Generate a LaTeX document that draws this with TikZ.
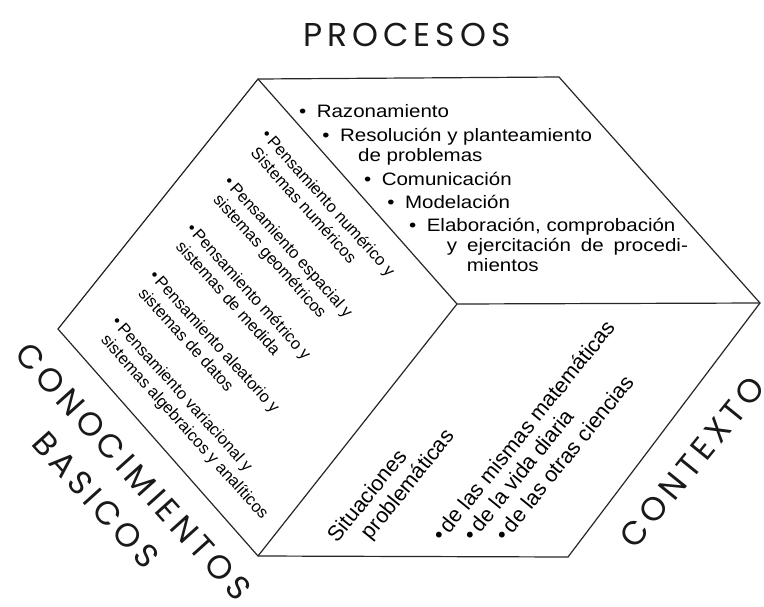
\documentclass[tikz,border=0pt]{standalone}
\usepackage{fontspec}
\setmainfont{Liberation Sans}
\newfontfamily\facefont{Liberation Sans}[FakeStretch=1.14]
\newfontfamily\axisfont{Poppins}[LetterSpace=15]

\newcommand{\procitem}{\textbullet\hspace{10.5pt}}

\begin{document}
\begin{tikzpicture} [
	   x=1pt, y=-1pt,
	   edge/.style  = { draw=black!85, line width=1.2pt, line join=miter },
	   axis/.style  = { font=\axisfont\fontsize{33}{40}\selectfont, text=black!90, inner sep=0pt, anchor=base },
	   proc/.style  = { font=\facefont\fontsize{18}{21}\selectfont, text=black, inner sep=0pt, anchor=base west },
	   know/.style  = { font=\fontsize{16.5}{20}\selectfont, text=black, inner sep=0pt, anchor=base west },
	   ctx/.style   = { font=\fontsize{21.5}{25}\selectfont, text=black, inner sep=0pt, anchor=base west },
	 ]
	  \useasboundingbox (0,0) rectangle (764,606);

	  % corners of the cube
	  \coordinate (topL)  at (258,79);
	  \coordinate (topR)  at (559,77);
	  \coordinate (right) at (760,303);
	  \coordinate (mid)   at (457,304);
	  \coordinate (left)  at (58,329);
	  \coordinate (botL)  at (258,556);
	  \coordinate (botR)  at (568,557);

	  % outline and the three inner edges
	  \draw[edge] (topL) -- (topR) -- (right) -- (botR) -- (botL) -- (left) -- cycle;
	  \draw[edge] (mid) -- (topL) (mid) -- (right) (mid) -- (botL);

	  % axis names
	  \node[axis] (procesos) at (407,46) {PROCESOS};
	  \node[axis, rotate=-48] (conoc) at (124.8,479.4) {CONOCIMIENTOS};
	  \node[axis, rotate=-48] (basic) at (87.5,507.7) {BASICOS};
	  \node[axis, rotate=51] (contexto) at (701.4,469.2) {CONTEXTO};

	  % top face
	  \node[proc] (p1) at (298.9,117.7) {\procitem Razonamiento};
	  \node[proc] (p2) at (322.2,141.7) {\procitem Resolución y planteamiento};
	  \node[proc] (p3) at (358,161.7) {de problemas};
	  \node[proc] (p4) at (363.9,185.7) {\procitem Comunicación};
	  \node[proc] (p5) at (387.2,208.3) {\procitem Modelación};
	  \node[proc] (p6) at (408.9,231.7) {\procitem Elaboración, comprobación};
	  \node[proc] (p7) at (446.7,251.7) {\makebox[241pt][s]{y ejercitación de procedi-}};
	  \node[proc] (p8) at (466.7,271.7) {mientos};

	  % left face, written along the edge from the top corner
	  \begin{scope} [shift={(topL)}, rotate=-48, transform shape]
		\node[know] (k1a) at (44,36)      {\textbullet\,Pensamiento numérico y};
		\node[know] (k1b) at (50,56)      {Sistemas numéricos};
		\node[know] (k2a) at (53.7,95.1)  {\textbullet\,Pensamiento espacial y};
		\node[know] (k2b) at (59.7,115.1) {sistemas geométricos};
		\node[know] (k3a) at (63.4,154.2) {\textbullet\,Pensamiento métrico y};
		\node[know] (k3b) at (69.4,174.2) {sistemas de medida};
		\node[know] (k4a) at (73.1,213.3) {\textbullet\,Pensamiento aleatorio y};
		\node[know] (k4b) at (79.1,233.3) {sistemas de datos};
		\node[know] (k5a) at (82.8,272.4) {\textbullet\,Pensamiento variacional y};
		\node[know] (k5b) at (88.8,292.4) {sistemas algebraicos y analíticos};
	  \end{scope}

	  % bottom face, written upwards from the base corner
	  \begin{scope} [shift={(botL)}, rotate=51, transform shape]
		\node[ctx] (c1) at (60,54)   {Situaciones};
		\node[ctx] (c2) at (83,78)   {problemáticas};
		\node[ctx] (c3) at (126,135) {\textbullet\,de las mismas matemáticas};
		\node[ctx] (c4) at (146,159) {\textbullet\,de la vida diaria};
		\node[ctx] (c5) at (166,184) {\textbullet\,de las otras ciencias};
	  \end{scope}
	\end{tikzpicture}
\end{document}
